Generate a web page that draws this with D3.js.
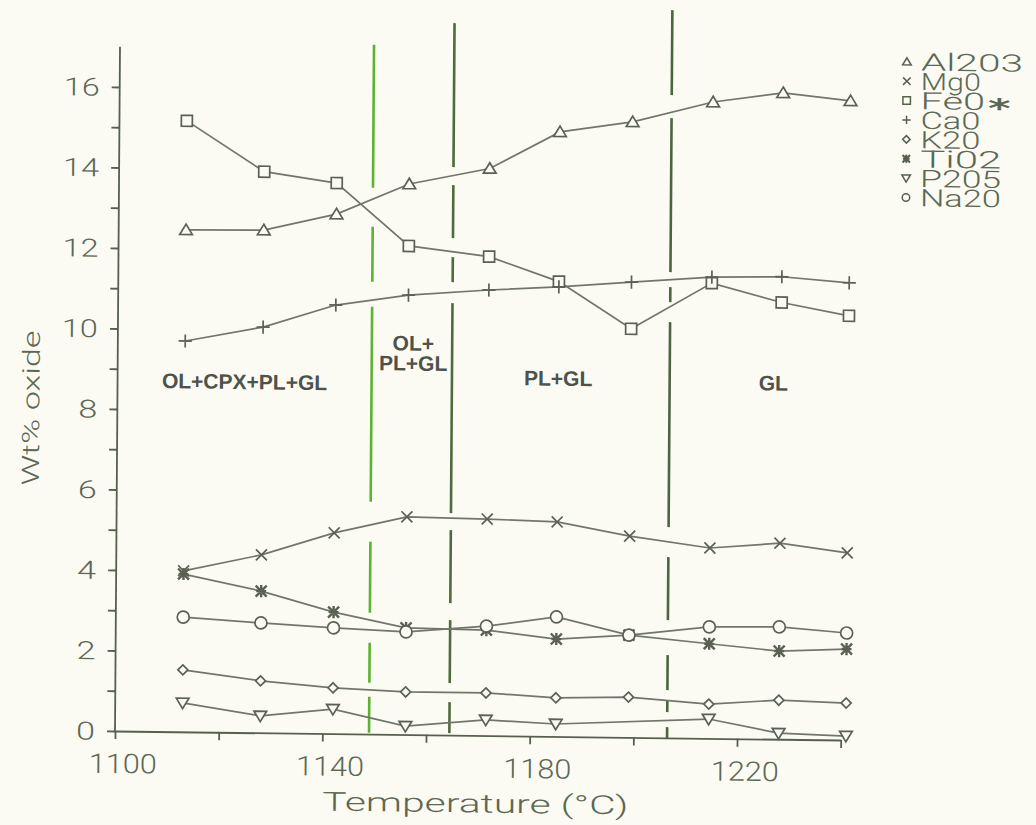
<!DOCTYPE html>
<html>
<head>
<meta charset="utf-8">
<script src="https://cdn.jsdelivr.net/npm/d3@7"></script>
<style>
  html, body { margin: 0; padding: 0; background: #fbfbf4; }
  svg { display: block; }
  .plot-text { font-family: Roboto, "DejaVu Sans", sans-serif; font-weight: 300; fill: #5d6854; }
  .phase { font-family: "Liberation Sans", Arial, sans-serif; font-weight: bold; fill: #4d524a; }
</style>
</head>
<body>
<svg id="chart" width="1036" height="825"></svg>
<script>
// Experimental run temperatures (°C)
const temperatures = [1113, 1128, 1142, 1156, 1171.5, 1185, 1199, 1214.5, 1228, 1241];

// Glass composition, wt% oxide, one value per run
const al2o3 = [12.47, 12.49, 12.91, 13.68, 14.09, 15.02, 15.29, 15.81, 16.06, 15.88];
const mgo   = [4.00, 4.42, 4.99, 5.41, 5.38, 5.33, 5.00, 4.73, 4.87, 4.65];
const feo   = [15.18, 13.94, 13.68, 12.14, 11.90, 11.30, 10.15, 11.31, 10.85, 10.54];
const cao   = [9.71, 10.08, 10.65, 10.92, 11.07, 11.17, 11.31, 11.46, 11.49, 11.36];
const k2o   = [1.54, 1.29, 1.14, 1.06, 1.06, 0.96, 1.00, 0.85, 0.97, 0.92];
const tio2  = [3.92, 3.52, 3.02, 2.65, 2.62, 2.42, 2.54, 2.35, 2.19, 2.26];
const p2o5  = [0.72, 0.42, 0.61, 0.21, 0.39, 0.31, null, 0.48, 0.15, 0.10];
const na2o  = [2.85, 2.73, 2.63, 2.55, 2.72, 2.97, 2.54, 2.77, 2.79, 2.66];

const seriesNames = ["Al203", "Mg0", "Fe0", "Ca0", "K20", "Ti02", "P205", "Na20"];
const seriesSymbols = ["triUp", "cross", "square", "plus", "diamond", "star", "triDown", "circle"];
const seriesValues = [al2o3, mgo, feo, cao, k2o, tio2, p2o5, na2o];

// Phase-assemblage boundaries (°C) and field labels
const phaseBoundaries = [1149, 1164.5, 1206.5];
const phaseFields = [
  { lines: ["OL+CPX+PL+GL"], t: 1124.5, v: 8.72 },
  { lines: ["OL+", "PL+GL"], t: 1157, v: 9.48 },
  { lines: ["PL+GL"], t: 1185, v: 8.9 },
  { lines: ["GL"], t: 1226.5, v: 8.85 }
];

const xTicks = [1100, 1120, 1140, 1160, 1180, 1200, 1220, 1240];
const xTickLabels = [1100, 1140, 1180, 1220];
const yTicks = d3.range(0, 17);
const yTickLabels = [0, 2, 4, 6, 8, 10, 12, 14, 16];

// ---------- drawing ----------
const ink = "#56604d";
const lineInk = "#71766b";

const x = d3.scaleLinear().domain([1100, 1240]).range([115, 840.7]);
const y = d3.scaleLinear().domain([0, 17]).range([731, 731 - 17 * 40.25]);

const svg = d3.select("#chart");
// the sheet sits very slightly skewed on the page
const root = svg.append("g")
  .attr("transform", "matrix(1,0.0124,-0.0073,1,5.34,-1.43)");

// phase boundaries
const boundaryStyle = [
  { color: "#5bb233", top: 17.13, dash: "143,39,55,25,195,40,71,30,40,14,36,40" },
  { color: "#4f6a3c", top: 17.69, dash: "144,18,53,19,25,21,210,17,73,17,63,19,31,40" },
  { color: "#4d6441", top: 18.08, dash: "85,23,154,15,15,20,205,30,63,35,35,10,12,15,11,40" }
];
root.append("g").selectAll("line")
  .data(phaseBoundaries)
  .join("line")
  .attr("x1", d => x(d)).attr("x2", d => x(d))
  .attr("y1", (d, i) => y(boundaryStyle[i].top))
  .attr("y2", y(-0.05))
  .attr("stroke", (d, i) => boundaryStyle[i].color)
  .attr("stroke-width", 2.6)
  .attr("stroke-dasharray", (d, i) => boundaryStyle[i].dash);

// phase field labels
const fieldG = root.append("g");
phaseFields.forEach(f => {
  const t = fieldG.append("text")
    .attr("class", "phase")
    .attr("font-size", 21)
    .attr("text-anchor", "middle")
    .attr("x", x(f.t))
    .attr("y", y(f.v) + 7.5 - (f.lines.length - 1) * 10);
  f.lines.forEach((ln, i) => {
    t.append("tspan").attr("x", x(f.t)).attr("dy", i === 0 ? 0 : 20).text(ln);
  });
});

// axes
const yAxis = d3.axisLeft(y)
  .tickValues(yTicks)
  .tickSize(8)
  .tickSizeOuter(0)
  .tickFormat("");
const yg = root.append("g").attr("transform", `translate(${x(1100)},0)`).call(yAxis);
yg.select(".domain").attr("d", `M0,${y(17)}V${y(0)}`);

const xAxis = d3.axisBottom(x)
  .tickValues(xTicks)
  .tickSize(8)
  .tickSizeOuter(0)
  .tickFormat("");
const xg = root.append("g").attr("transform", `translate(0,${y(0)})`).call(xAxis);

[yg, xg].forEach(g => {
  g.selectAll("path, line").attr("stroke", ink).attr("stroke-width", 1.8);
});

// plotter lettering is wide: stretch glyphs to the lettering pitch
const yLabelWidth = d => (String(d).length > 1 ? 36 : 19);
root.append("g").selectAll("text")
  .data(yTickLabels)
  .join("text")
  .attr("class", "plot-text")
  .attr("font-size", 25)
  .attr("text-anchor", "start")
  .attr("textLength", yLabelWidth)
  .attr("lengthAdjust", "spacingAndGlyphs")
  .attr("x", d => x(1100) - 20 - yLabelWidth(d))
  .attr("y", d => y(d) + 9)
  .text(d => d);

root.append("g").selectAll("text")
  .data(xTickLabels)
  .join("text")
  .attr("class", "plot-text")
  .attr("font-size", 27)
  .attr("text-anchor", "start")
  .attr("textLength", 68)
  .attr("lengthAdjust", "spacingAndGlyphs")
  .attr("x", d => x(d) + 8 - 34)
  .attr("y", y(0) + 42)
  .text(d => d);

root.append("text")
  .attr("class", "plot-text")
  .attr("font-size", 26)
  .attr("text-anchor", "start")
  .attr("textLength", 306)
  .attr("lengthAdjust", "spacingAndGlyphs")
  .attr("x", x(1170) - 2 - 153)
  .attr("y", y(0) + 77)
  .text("Temperature (°C)");

root.append("text")
  .attr("class", "plot-text")
  .attr("font-size", 24)
  .attr("text-anchor", "start")
  .attr("textLength", 155)
  .attr("lengthAdjust", "spacingAndGlyphs")
  .attr("transform", `translate(37,${y(8.0)}) rotate(-90)`)
  .attr("x", -77.5)
  .text("Wt% oxide");

// marker shapes
function markerPath(type, s) {
  const h = s / 2;
  switch (type) {
    case "triUp": return `M0,${-h * 1.05}L${h * 1.15},${h * 0.85}L${-h * 1.15},${h * 0.85}Z`;
    case "triDown": return `M0,${h * 1.05}L${h * 1.15},${-h * 0.85}L${-h * 1.15},${-h * 0.85}Z`;
    case "cross": return `M${-h},${-h}L${h},${h}M${-h},${h}L${h},${-h}`;
    case "plus": return `M${-h * 1.1},0L${h * 1.1},0M0,${-h * 1.1}L0,${h * 1.1}`;
    case "square": return `M${-h},${-h}H${h}V${h}H${-h}Z`;
    case "diamond": return `M0,${-h}L${h},0L0,${h}L${-h},0Z`;
    case "star": return `M${-h},${-h}L${h},${h}M${-h},${h}L${h},${-h}M0,${-h * 1.1}L0,${h * 1.1}M${-h * 0.9},0L${h * 0.9},0`;
    case "circle": return `M${h},0A${h},${h} 0 1,1 ${-h},0A${h},${h} 0 1,1 ${h},0Z`;
  }
}
const closedShapes = new Set(["triUp", "triDown", "square", "diamond", "circle"]);
const markerSize = { triUp: 11, triDown: 11, cross: 11, plus: 12, square: 11, diamond: 10, star: 11, circle: 12 };

const line = d3.line().x(d => x(d.t)).y(d => y(d.v));

const series = seriesNames.map((name, i) => ({
  name,
  symbol: seriesSymbols[i],
  points: temperatures.map((t, j) => ({ t, v: seriesValues[i][j] })).filter(p => p.v !== null)
}));

const dataG = root.append("g");
dataG.selectAll("path.series")
  .data(series)
  .join("path")
  .attr("class", "series")
  .attr("d", d => line(d.points))
  .attr("fill", "none")
  .attr("stroke", lineInk)
  .attr("stroke-width", 1.7);

series.forEach(s => {
  dataG.append("g").selectAll("path")
    .data(s.points)
    .join("path")
    .attr("transform", p => `translate(${x(p.t)},${y(p.v)})`)
    .attr("d", markerPath(s.symbol, markerSize[s.symbol]))
    .attr("fill", closedShapes.has(s.symbol) ? "#fbfbf4" : "none")
    .attr("stroke", "#5a6152")
    .attr("stroke-width", s.symbol === "star" ? 2.4 : 1.7);
});

// legend
const legend = root.append("g").attr("transform", "translate(902,52)");
series.forEach((s, i) => {
  const row = legend.append("g").attr("transform", `translate(0,${i * 19.4})`);
  row.append("path")
    .attr("d", markerPath(s.symbol, 7.5))
    .attr("fill", "none")
    .attr("stroke", ink)
    .attr("stroke-width", s.symbol === "star" ? 2 : 1.5);
  const isFe = s.name === "Fe0";
  const txt = row.append("text")
    .attr("class", "plot-text")
    .attr("font-size", 24)
    .attr("textLength", isFe ? 90 : 21 * s.name.length - 3)
    .attr("lengthAdjust", "spacingAndGlyphs")
    .attr("x", 14)
    .attr("y", 8.6)
    .text(s.name);
  if (isFe) {
    txt.append("tspan")
      .attr("font-family", "DejaVu Sans")
      .attr("font-weight", "bold")
      .attr("font-size", 26)
      .attr("dx", 2)
      .attr("dy", 7)
      .text("*");
  }
});
</script>
</body>
</html>
